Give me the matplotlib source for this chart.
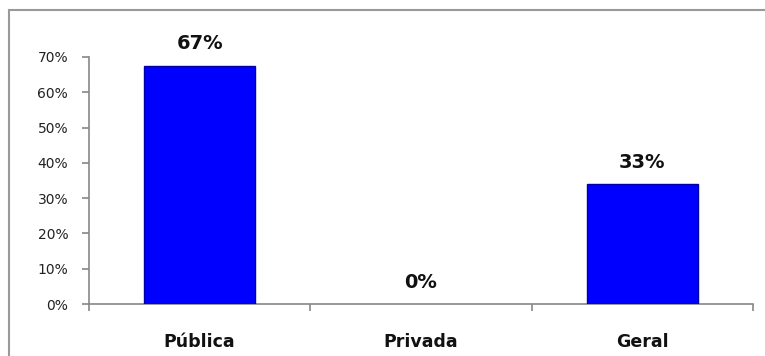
import matplotlib
matplotlib.use('Agg')
import matplotlib.pyplot as plt
from matplotlib.patches import Rectangle
from matplotlib.ticker import PercentFormatter, FixedLocator

categorias = ['Pública', 'Privada', 'Geral']
valores = [0.675, 0.0, 0.34]
rotulos = ['67%', '0%', '33%']

fig = plt.figure(figsize=(7.65, 3.56), dpi=100)
W, H = 765, 356
ax = fig.add_axes([89 / W, 52 / H, (753 - 89) / W, (304 - 57) / H])

# moldura externa (estilo Excel)
fig.patches.append(Rectangle((9 / W, -0.1), 1.2, (H - 10) / H + 0.1,
                             transform=fig.transFigure, fill=False,
                             edgecolor='#999999', linewidth=1.5))

x = range(len(categorias))
bars = ax.bar(x, valores, width=0.5, color='#0000ff', edgecolor='#0000a8', linewidth=1.0, zorder=3)

for b, txt in zip(bars, rotulos):
    if b.get_height() == 0:
        b.set_linewidth(0)
    ax.annotate(txt, (b.get_x() + b.get_width() / 2, b.get_height()),
                xytext=(0, 9), textcoords='offset points', ha='center', va='bottom',
                fontsize=14, fontweight='bold', color='#111111')

ax.set_xlim(-0.5, 2.5)
ax.set_ylim(0, 0.7)
ax.set_yticks([i / 10 for i in range(8)])
ax.yaxis.set_major_formatter(PercentFormatter(1.0, decimals=0))

ax.set_xticks(list(x))
ax.set_xticklabels(categorias, fontsize=12.5, fontweight='bold', color='#111111')
ax.xaxis.set_minor_locator(FixedLocator([-0.5, 0.5, 1.5, 2.5]))
ax.tick_params(axis='x', which='major', length=0, pad=21)
ax.tick_params(axis='x', which='minor', length=5, color='#888888', width=1.2)
ax.tick_params(axis='y', length=5, color='#888888', width=1.2, pad=10,
               labelsize=10, labelcolor='#222222')

for s in ['top', 'right']:
    ax.spines[s].set_visible(False)
for s in ['left', 'bottom']:
    ax.spines[s].set_color('#888888')
    ax.spines[s].set_linewidth(1.2)

fig.savefig('out.png', dpi=100)
